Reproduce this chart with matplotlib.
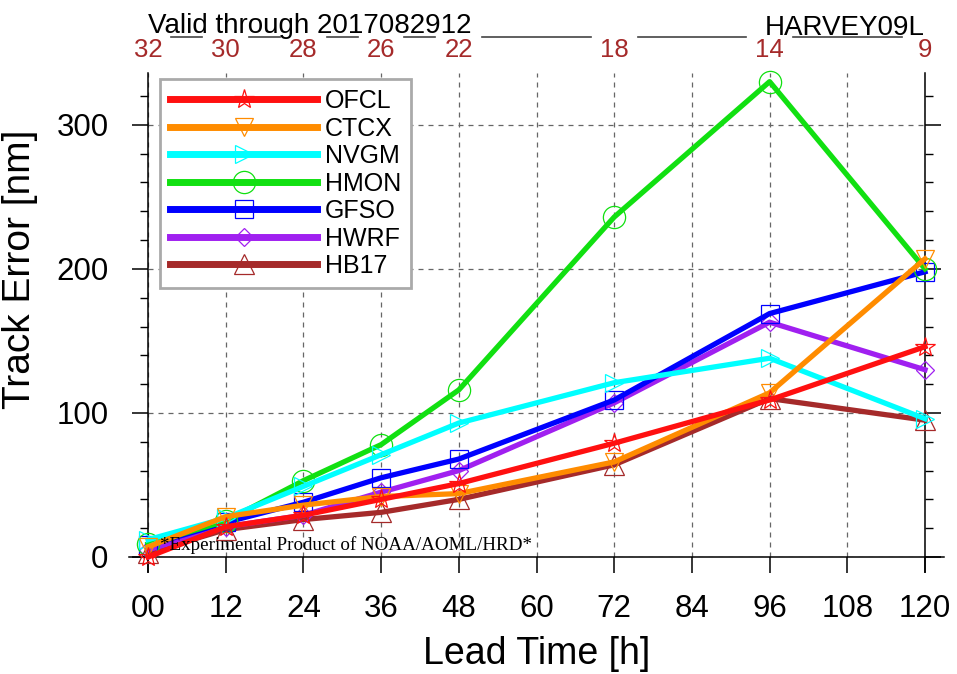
import matplotlib
matplotlib.use('Agg')
import matplotlib.pyplot as plt
import matplotlib.transforms as mtransforms

# track errors for HARVEY09L, lead times in hours
lead = [0, 12, 24, 36, 48, 72, 96, 120]
ncases = ['32', '30', '28', '26', '22', '18', '14', '9']
names = ['OFCL', 'CTCX', 'NVGM', 'HMON', 'GFSO', 'HWRF', 'HB17']

OFCL = [0, 21, 29, 40, 51, 79, 109, 146]
CTCX = [7, 28, 36, 42, 44, 66, 114, 207]
NVGM = [12, 27, 49, 71, 93, 121, 138, 96]
HMON = [9, 25, 53, 78, 116, 236, 330, 200]
GFSO = [8, 24, 38, 55, 68, 109, 169, 198]
HWRF = [5, 21, 29, 45, 60, 107, 163, 130]
HB17 = [3, 19, 26, 31, 40, 64, 110, 95]

series = [OFCL, CTCX, NVGM, HMON, GFSO, HWRF, HB17]
colors = ['#ff1010', '#ff8c00', '#00ffff', '#11e011', '#0000ff', '#a020f0', '#a52a2a']
markers = ['*', 'v', '>', 'o', 's', 'D', '^']
msizes = [15, 13, 13, 16, 13, 9.5, 14]

plt.rcParams['font.family'] = ['Liberation Sans', 'DejaVu Sans']

fig = plt.figure(figsize=(9.57, 6.74), dpi=100)
ax = fig.add_axes([148/957, 1-557/674, 777/957, 484/674])

# draw in reverse so OFCL ends on top
handles = [None]*len(names)
for i in reversed(range(len(names))):
    h, = ax.plot(lead, series[i], color=colors[i], lw=3.8, marker=markers[i],
                 ms=msizes[i], mfc='none', mec=colors[i], mew=0.9,
                 label=names[i], clip_on=False, zorder=3)
    handles[i] = h

ax.set_xlim(0, 120)
ax.set_ylim(0, 336)
ax.set_xticks(range(0, 121, 12))
ax.set_xticklabels(['%02d' % t for t in range(0, 121, 12)])
ax.set_yticks([0, 100, 200, 300])
ax.set_yticks(range(0, 337, 20), minor=True)
ax.tick_params(axis='both', which='major', labelsize=22.5, direction='out', length=11.5, width=1.1)
ax.tick_params(axis='y', which='minor', direction='out', length=6, width=1, right=True)
ax.tick_params(axis='y', which='major', right=True, pad=17)
ax.tick_params(axis='x', which='major', pad=15)
ax.tick_params(axis='x', which='minor', bottom=False)

ax.spines['top'].set_visible(False)
for s in ['left', 'right', 'bottom']:
    ax.spines[s].set_linewidth(1.1)
ax.spines['bottom'].set_bounds(-3, 123)
ax.spines['left'].set_bounds(-10.5, 336)
ax.spines['right'].set_bounds(-10.5, 336)

ax.grid(True, which='major', linestyle=(0, (4, 4)), color='#666666', lw=0.9)
ax.set_axisbelow(True)

ax.set_xlabel('Lead Time [h]', fontsize=27)
ax.set_ylabel('Track Error [nm]', fontsize=28)
ax.xaxis.set_label_coords(0.5, -0.163)
ax.yaxis.set_label_coords(-0.141, 0.595)

# number of cases on top
ax2 = ax.twiny()
ax2.set_xlim(ax.get_xlim())
ax2.set_xticks(lead)
ax2.set_xticklabels(ncases, color='#a52a2a', fontsize=18.5)
ax2.tick_params(axis='x', length=0, pad=8)
for s in ax2.spines.values():
    s.set_visible(False)

# broken line between the top labels
trans = mtransforms.blended_transform_factory(ax.transData, fig.transFigure)
for a, b in zip(lead[:-1], lead[1:]):
    ax.plot([a + 3.6, b - 3.6], [1 - 37/674, 1 - 37/674], color='#444444', lw=1.2,
            transform=trans, clip_on=False)

fig.text(148/957, 1 - 33/674, 'Valid through 2017082912', fontsize=20, ha='left', va='baseline')
fig.text(925/957, 1 - 35/674, 'HARVEY09L', fontsize=20, ha='right', va='baseline')

ax.text(0.016, 0.014, '*Experimental Product of NOAA/AOML/HRD*', transform=ax.transAxes,
        fontsize=13.7, family=['Liberation Serif', 'DejaVu Serif'], ha='left', va='baseline', zorder=4)

leg = ax.legend(handles=handles, loc='upper left', bbox_to_anchor=(0.0154, 0.9876),
                borderaxespad=0, fontsize=18, handlelength=5.9, handletextpad=0.3,
                labelspacing=0.14, borderpad=0.4, numpoints=1, fancybox=False,
                framealpha=1, edgecolor='#aaaaaa')
leg.get_frame().set_linewidth(2)
for h in leg.legend_handles:
    h.set_linewidth(5)

fig.savefig('out.png', dpi=100)
